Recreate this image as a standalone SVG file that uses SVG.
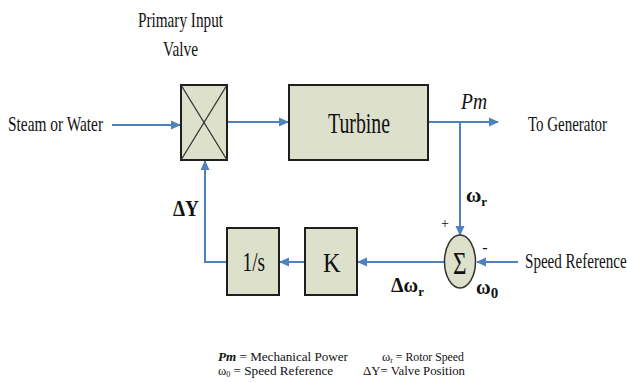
<svg xmlns="http://www.w3.org/2000/svg" width="628" height="383" viewBox="0 0 628 383" font-family="Liberation Serif, DejaVu Serif, serif">
<style>
.box{fill:#dde0cb;stroke:#1e1e1e;stroke-width:2}
.ln{fill:none;stroke:#4f81bd;stroke-width:2}
.x{stroke:#333;stroke-width:1.3}
text{fill:#111}
.t{font-size:22px}
.b{font-weight:bold}
.lg{font-size:12.5px}
</style>
<defs>
<marker id="ah" markerWidth="10" markerHeight="10" refX="9" refY="5" orient="auto" markerUnits="userSpaceOnUse">
<path d="M0,0.5 L10,5 L0,9.5 Z" fill="#4f81bd"/>
</marker>
</defs>
<rect width="628" height="383" fill="#fff"/>
<g id="connectors">
<path class="ln" d="M112,125 H180" marker-end="url(#ah)"/>
<path class="ln" d="M227,122 H288" marker-end="url(#ah)"/>
<path class="ln" d="M428,122 H498" marker-end="url(#ah)"/>
<path class="ln" d="M460,122 V235" marker-end="url(#ah)"/>
<path class="ln" d="M518,262 H477" marker-end="url(#ah)"/>
<path class="ln" d="M444,262 H358" marker-end="url(#ah)"/>
<path class="ln" d="M305,262 H280" marker-end="url(#ah)"/>
<path class="ln" d="M227,262 H205 V161" marker-end="url(#ah)"/>
</g>
<g id="valve">
<rect class="box" x="181" y="85" width="46" height="75"/>
<line class="x" x1="181" y1="85" x2="227" y2="160"/>
<line class="x" x1="227" y1="85" x2="181" y2="160"/>
<text class="t" x="138" y="27" textLength="85" lengthAdjust="spacingAndGlyphs">Primary Input</text>
<text class="t" x="163" y="56" textLength="35" lengthAdjust="spacingAndGlyphs">Valve</text>
</g>
<g id="turbine">
<rect class="box" x="289" y="85" width="139" height="75"/>
<text x="328" y="132.5" font-size="30" textLength="62" lengthAdjust="spacingAndGlyphs">Turbine</text>
</g>
<g id="integrator">
<rect class="box" x="227" y="228" width="52" height="67"/>
<text x="242.5" y="271" font-size="28" textLength="22.5" lengthAdjust="spacingAndGlyphs">1/s</text>
</g>
<g id="gain">
<rect class="box" x="305" y="228" width="52" height="67"/>
<text x="323" y="271.5" font-size="28" textLength="17.5" lengthAdjust="spacingAndGlyphs">K</text>
</g>
<g id="sum">
<ellipse cx="460" cy="261.5" rx="15.5" ry="26.5" fill="#dde0cb" stroke="#333" stroke-width="1.5"/>
<text x="453" y="274" font-size="31" textLength="13.5" lengthAdjust="spacingAndGlyphs">Σ</text>
</g>
<g id="labels">
<text class="t" x="8" y="131" textLength="95" lengthAdjust="spacingAndGlyphs">Steam or Water</text>
<text x="461" y="109" font-size="24" font-style="italic" textLength="26" lengthAdjust="spacingAndGlyphs">Pm</text>
<text class="t" x="0" y="0" transform="translate(528,131) scale(0.68,1)">To Generator</text>
<text class="b" x="466" y="202" font-size="21">ω<tspan font-size="13" dy="4">r</tspan></text>
<text x="445" y="228" font-size="14" text-anchor="middle">+</text>
<text x="485" y="253" font-size="16" text-anchor="middle">-</text>
<text class="b" x="476" y="294" font-size="20">ω<tspan font-size="15" dy="4">0</tspan></text>
<text class="t" x="0" y="0" transform="translate(525,268) scale(0.685,1)">Speed Reference</text>
<text class="b" x="391" y="292" font-size="20">Δω<tspan font-size="13" dy="4">r</tspan></text>
<text class="b" x="173" y="216" font-size="24" textLength="26" lengthAdjust="spacingAndGlyphs">ΔY</text>
</g>
<g id="legend">
<text class="lg" x="218" y="361" textLength="130" lengthAdjust="spacingAndGlyphs"><tspan font-style="italic" font-weight="bold">Pm</tspan> = Mechanical Power</text>
<text class="lg" x="382" y="361">ω<tspan font-size="8" dy="2">r</tspan><tspan dy="-2" textLength="71" lengthAdjust="spacingAndGlyphs"> = Rotor Speed</tspan></text>
<text class="lg" x="218" y="375">ω<tspan font-size="8" dy="2">0</tspan><tspan dy="-2" textLength="103" lengthAdjust="spacingAndGlyphs"> = Speed Reference</tspan></text>
<text class="lg" x="363" y="375" textLength="102" lengthAdjust="spacingAndGlyphs">ΔY= Valve Position</text>
</g>
</svg>
